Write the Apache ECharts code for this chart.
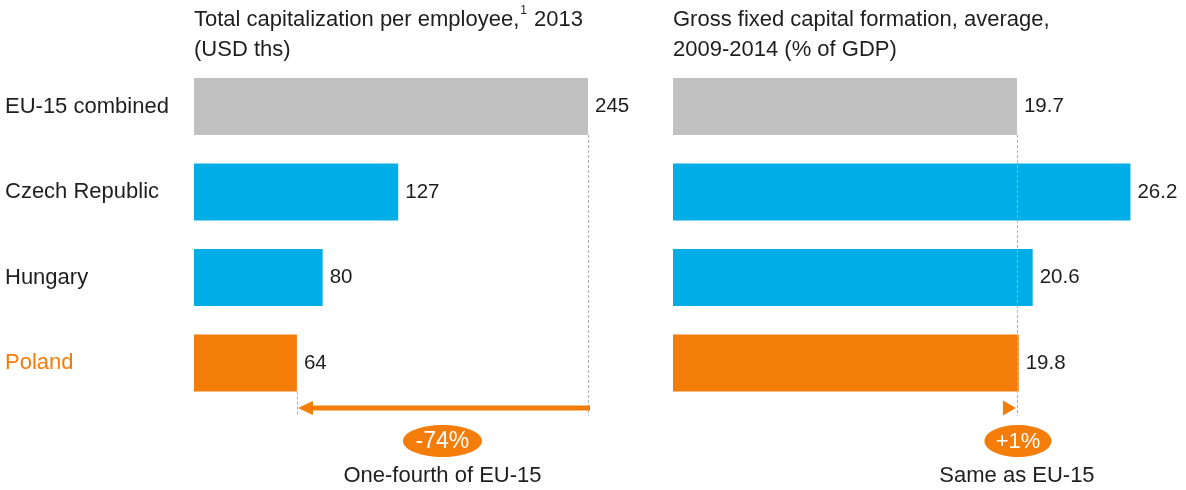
<!DOCTYPE html>
<html><head><meta charset="utf-8">
<script src="https://cdn.jsdelivr.net/npm/echarts@6/dist/echarts.min.js"></script>
<style>html,body{margin:0;padding:0;background:#fff}#c{width:1186px;height:490px}</style>
</head><body><div id="c"></div>
<script>
const categories = ['EU-15 combined', 'Czech Republic', 'Hungary', 'Poland'];
const capitalization = [245, 127, 80, 64];
const capitalFormation = [19.7, 26.2, 20.6, 19.8];
const leftTitle = '{t|Total capitalization per employee,}{sup|1}{t| 2013}\n{t|(USD ths)}';
const rightTitle = 'Gross fixed capital formation, average,\n2009-2014 (% of GDP)';
const leftChange = '-74%';
const leftNote = 'One-fourth of EU-15';
const rightChange = '+1%';
const rightNote = 'Same as EU-15';

const GREY = '#C1C1C1', BLUE = '#00ADE6', ORANGE = '#F47D0A', TEXT = '#1E1E1E';
const FONT = '"Liberation Sans", Arial, sans-serif';
const barColors = [GREY, BLUE, BLUE, ORANGE];

const chart = echarts.init(document.getElementById('c'), null, {renderer: 'canvas'});
const gridTop = 63.75, gridH = 342;
const option = {
  animation: false,
  backgroundColor: '#fff',
  textStyle: {fontFamily: FONT},
  title: [
    {text: leftTitle, left: 194, top: 5, padding: 0,
     textStyle: {fontFamily: FONT, fontWeight: 'normal', fontSize: 22, color: TEXT, lineHeight: 30,
       rich: {t: {fontFamily: FONT, fontSize: 22, color: TEXT, lineHeight: 30},
              sup: {fontFamily: FONT, fontSize: 12, color: TEXT, verticalAlign: 'top', lineHeight: 30, padding: [0, 1, 10, 1]}}}},
    {text: rightTitle, left: 673, top: 5, padding: 0,
     textStyle: {fontFamily: FONT, fontWeight: 'normal', fontSize: 22, color: TEXT, lineHeight: 30}}
  ],
  grid: [
    {left: 194, top: gridTop, width: 250 * 1.6082, height: gridH},
    {left: 673, top: gridTop, width: 27 * 17.46, height: gridH}
  ],
  xAxis: [
    {type: 'value', gridIndex: 0, min: 0, max: 250, show: false},
    {type: 'value', gridIndex: 1, min: 0, max: 27, show: false}
  ],
  yAxis: [
    {type: 'category', gridIndex: 0, data: categories, inverse: true,
     axisLine: {show: false}, axisTick: {show: false}, splitLine: {show: false},
     axisLabel: {margin: 189, align: 'left', fontSize: 22, fontFamily: FONT,
       color: (v, i) => (v === 'Poland' ? ORANGE : TEXT)}},
    {type: 'category', gridIndex: 1, data: categories, inverse: true, show: false}
  ],
  series: [
    {type: 'bar', xAxisIndex: 0, yAxisIndex: 0, barWidth: 57,
     data: capitalization.map((v, i) => ({value: v, itemStyle: {color: barColors[i]}})),
     label: {show: true, position: 'right', distance: 7, fontSize: 20.5, fontFamily: FONT, color: TEXT}},
    {type: 'bar', xAxisIndex: 1, yAxisIndex: 1, barWidth: 57,
     data: capitalFormation.map((v, i) => ({value: v, itemStyle: {color: barColors[i]}})),
     label: {show: true, position: 'right', distance: 7, fontSize: 20.5, fontFamily: FONT, color: TEXT}}
  ]
};
chart.setOption(option);

const xL0 = chart.convertToPixel({xAxisIndex: 0}, capitalization[0]);
const xL3 = chart.convertToPixel({xAxisIndex: 0}, capitalization[3]);
const xR0 = chart.convertToPixel({xAxisIndex: 1}, capitalFormation[0]);
const yEUbot = chart.convertToPixel({yAxisIndex: 0}, categories[0]) + 28.5;
const yPLbot = chart.convertToPixel({yAxisIndex: 0}, categories[3]) + 28.5;
const arrowY = 408, dashEnd = 416, ellY = 441, noteY = 476;
const dash = {stroke: '#B0B0B0', lineWidth: 1, lineDash: [3, 2]};
const leftMid = (xL0 + xL3) / 2;

chart.setOption({
  graphic: [
    {type: 'line', z: 100, shape: {x1: xL0 + 0.5, y1: yEUbot, x2: xL0 + 0.5, y2: dashEnd}, style: dash},
    {type: 'line', z: 100, shape: {x1: xL3 + 0.5, y1: yPLbot, x2: xL3 + 0.5, y2: dashEnd}, style: dash},
    {type: 'line', z: 100, shape: {x1: xR0 + 0.5, y1: yEUbot, x2: xR0 + 0.5, y2: dashEnd}, style: dash},
    {type: 'line', z: 101, shape: {x1: xL0 + 2, y1: arrowY, x2: xL3 + 14, y2: arrowY}, style: {stroke: ORANGE, lineWidth: 5}},
    {type: 'polygon', z: 101, shape: {points: [[xL3 + 1, arrowY], [xL3 + 16, arrowY - 7], [xL3 + 16, arrowY + 7]]}, style: {fill: ORANGE}},
    {type: 'polygon', z: 101, shape: {points: [[xR0 - 1, arrowY], [xR0 - 14, arrowY - 7.5], [xR0 - 14, arrowY + 7.5]]}, style: {fill: ORANGE}},
    {type: 'ellipse', z: 101, shape: {cx: leftMid, cy: ellY, rx: 39.5, ry: 16}, style: {fill: ORANGE}},
    {type: 'text', z: 102, x: leftMid, y: ellY + 1, style: {text: leftChange, fill: '#fff', font: '23px ' + FONT, textAlign: 'center', textVerticalAlign: 'middle'}},
    {type: 'ellipse', z: 101, shape: {cx: xR0 + 1, cy: ellY, rx: 33.5, ry: 16}, style: {fill: ORANGE}},
    {type: 'text', z: 102, x: xR0 + 1, y: ellY + 1, style: {text: rightChange, fill: '#fff', font: '22px ' + FONT, textAlign: 'center', textVerticalAlign: 'middle'}},
    {type: 'text', z: 102, x: leftMid, y: noteY, style: {text: leftNote, fill: TEXT, font: '22px ' + FONT, textAlign: 'center', textVerticalAlign: 'middle'}},
    {type: 'text', z: 102, x: xR0, y: noteY, style: {text: rightNote, fill: TEXT, font: '22px ' + FONT, textAlign: 'center', textVerticalAlign: 'middle'}}
  ]
});
</script></body></html>
